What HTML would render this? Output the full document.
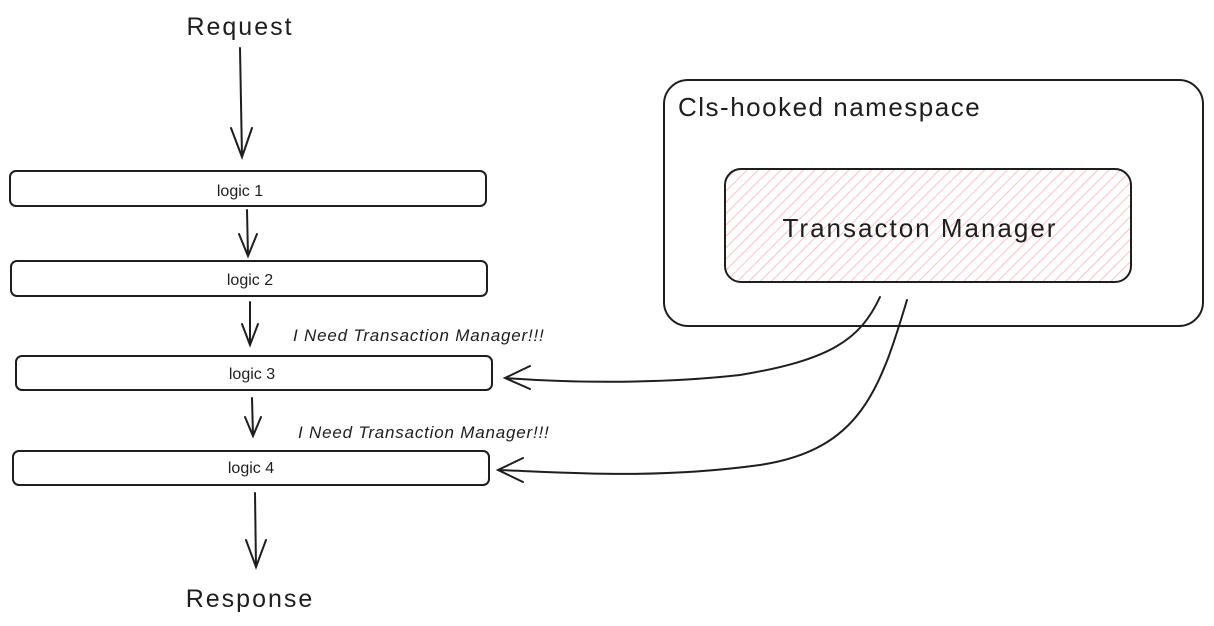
<!DOCTYPE html>
<html><head><meta charset="utf-8"><style>
html,body{margin:0;padding:0;background:#fff;}
svg{display:block;}
text{font-family:"Liberation Sans",sans-serif;fill:#1e1e1e;}
</style></head><body>
<svg width="1214" height="626" viewBox="0 0 1214 626" xmlns="http://www.w3.org/2000/svg">
<defs>
<pattern id="h" patternUnits="userSpaceOnUse" width="8" height="8" patternTransform="rotate(45)">
<line x1="0" y1="0" x2="0" y2="8" stroke="#ffb3b3" stroke-width="1.6"/>
</pattern>
</defs>
<g fill="none" stroke="#1e1e1e" stroke-width="2" stroke-linecap="round">
<text x="240" y="35" font-size="25" text-anchor="middle" letter-spacing="2" stroke="none">Request</text>
<path d="M240 48 L242 157 M231 128 L242 157 L252 128"/>
<rect x="10" y="171" width="476" height="35" rx="6"/>
<path d="M247 210 L248 256 M239 234 L248 256 L257 234"/>
<rect x="11" y="261" width="476" height="35" rx="6"/>
<path d="M250 302 L250 345 M242 324 L250 345 L258 324"/>
<rect x="16" y="356" width="476" height="34" rx="6"/>
<path d="M252 398 L253 436 M245 417 L253 436 L261 417"/>
<rect x="13" y="451" width="476" height="34" rx="6"/>
<path d="M255 493 L256 567 M246 540 L256 567 L266 540"/>
<rect x="664" y="80" width="539" height="246" rx="24"/>
<rect x="725" y="169" width="406" height="113" rx="16" fill="url(#h)"/>
<path d="M880 297 C860 340 830 360 740 375 C650 385 560 382 505 378 M530 366 L505 378 L530 389"/>
<path d="M907 300 C880 390 860 450 760 465 C650 480 560 472 498 470 M523 458 L498 470 L523 482"/>
</g>
<text x="240" y="196" font-size="16" text-anchor="middle">logic 1</text>
<text x="250" y="285" font-size="16" text-anchor="middle">logic 2</text>
<text x="252" y="379" font-size="16" text-anchor="middle">logic 3</text>
<text x="251" y="473" font-size="16" text-anchor="middle">logic 4</text>
<text x="293" y="341" font-size="17" font-style="italic" letter-spacing="0.8">I Need Transaction Manager!!!</text>
<text x="298" y="438" font-size="17" font-style="italic" letter-spacing="0.8">I Need Transaction Manager!!!</text>
<text x="678" y="116" font-size="26" letter-spacing="1.5">Cls-hooked namespace</text>
<text x="920" y="237" font-size="26" text-anchor="middle" letter-spacing="2">Transacton Manager</text>
<text x="250" y="607" font-size="25" text-anchor="middle" letter-spacing="2">Response</text>
</svg>
</body></html>
